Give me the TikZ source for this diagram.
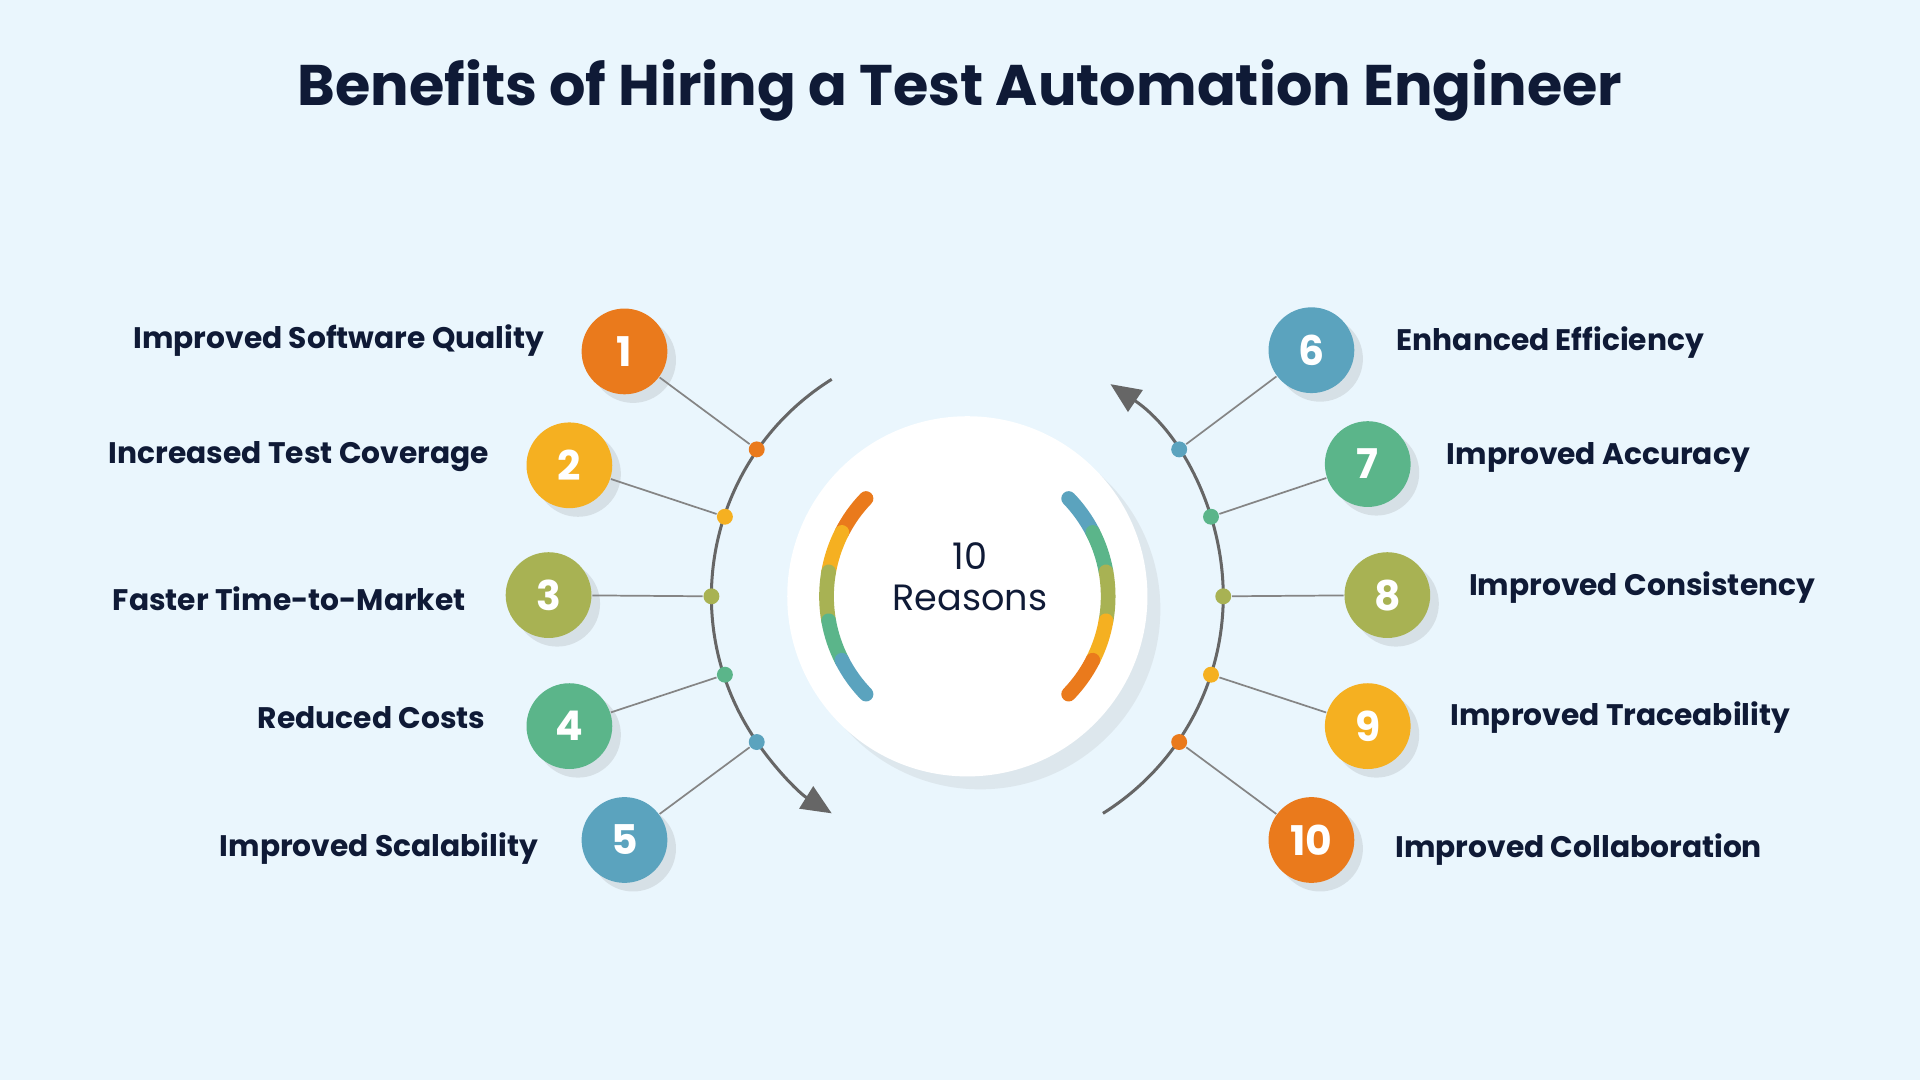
\documentclass[tikz,border=0pt]{standalone}
\usepackage{fontspec}
\setmainfont{Poppins}
\usetikzlibrary{arrows.meta,shadows}
\definecolor{bg}{HTML}{EAF6FD}
\definecolor{navy}{HTML}{0F1A36}
\definecolor{cor}{HTML}{EA7A1C}
\definecolor{cye}{HTML}{F5B021}
\definecolor{col}{HTML}{A8B253}
\definecolor{cgr}{HTML}{5BB58A}
\definecolor{cbl}{HTML}{5BA3BE}
\definecolor{arcg}{HTML}{666666}
\begin{document}
\begin{tikzpicture}[x=0.01cm,y=-0.01cm,
 num/.style={circle,minimum size=0.7cm,inner sep=0,fill=#1,text=white,font=\fontsize{9.5}{12}\selectfont\bfseries,drop shadow={opacity=0.18,shadow xshift=2pt,shadow yshift=-2pt}},
 dotn/.style={circle,minimum size=0.13cm,inner sep=0,fill=#1},
 lab/.style={font=\fontsize{6.9}{9}\selectfont\bfseries,text=navy,inner sep=0},
 conn/.style={draw=arcg!80,line width=0.4pt},
 bigarc/.style={draw=arcg,line width=0.7pt},
 seg/.style={line width=0.12cm,line cap=round}]
\fill[bg] (0,0) rectangle (1568,882);
\useasboundingbox (0,0) rectangle (1568,882);
\node[font=\fontsize{13.3}{16}\selectfont\bfseries,text=navy] (title) at (784,74) {Benefits of Hiring a Test Automation Engineer};
\coordinate (c) at (790,487);
\draw[bigarc,-{Triangle[length=7pt,width=6pt]}] ([shift={(-122:209)}]c) arc[start angle=-122,end angle=-238,radius=209];
\draw[bigarc,-{Triangle[length=7pt,width=6pt]}] ([shift={(58:209)}]c) arc[start angle=58,end angle=-56,radius=209];
\node[circle,fill=white,minimum size=2.94cm,inner sep=0,drop shadow={opacity=0.12,shadow xshift=3pt,shadow yshift=-3pt}] (mid) at (c) {};
\node[font=\fontsize{8.5}{9.5}\selectfont,text=navy,align=center] (rs) at (792,471) {10\\Reasons};
\foreach \a/\b/\col in {-136/-153/cor,-153/-170/cye,-170/-190/col,-190/-207/cgr,-207/-224/cbl}
  \draw[seg,\col] ([shift={(\a:115)}]c) arc[start angle=\a,end angle=\b,radius=115];
\foreach \a/\b/\col in {-44/-27/cbl,-27/-10/cgr,-10/10/col,10/27/cye,27/44/cor}
  \draw[seg,\col] ([shift={(\a:115)}]c) arc[start angle=\a,end angle=\b,radius=115];
\node[dotn=cor] (d1) at (618,367) {};
\node[dotn=cye] (d2) at (592,422) {};
\node[dotn=col] (d3) at (581,487) {};
\node[dotn=cgr] (d4) at (592,551) {};
\node[dotn=cbl] (d5) at (618,606) {};
\node[dotn=cbl] (d6) at (963,367) {};
\node[dotn=cgr] (d7) at (989,422) {};
\node[dotn=col] (d8) at (999,487) {};
\node[dotn=cye] (d9) at (989,551) {};
\node[dotn=cor] (d10) at (963,606) {};
\node[num=cor] (n1) at (510,287) {1};
\node[num=cye] (n2) at (465,380) {2};
\node[num=col] (n3) at (448,486) {3};
\node[num=cgr] (n4) at (465,593) {4};
\node[num=cbl] (n5) at (510,686) {5};
\node[num=cbl] (n6) at (1071,286) {6};
\node[num=cgr] (n7) at (1117,379) {7};
\node[num=col] (n8) at (1133,486) {8};
\node[num=cye] (n9) at (1117,593) {9};
\node[num=cor] (n10) at (1071,686) {10};
\foreach \i in {1,...,10} \draw[conn] (d\i) -- (n\i);
\node[lab,anchor=east] (l1) at (445,278) {Improved Software Quality};
\node[lab,anchor=east] (l2) at (400,373) {Increased Test Coverage};
\node[lab,anchor=east] (l3) at (381,489) {Faster Time-to-Market};
\node[lab,anchor=east] (l4) at (397,586) {Reduced Costs};
\node[lab,anchor=east] (l5) at (440,693) {Improved Scalability};
\node[lab,anchor=west] (l6) at (1140,280) {Enhanced Efficiency};
\node[lab,anchor=west] (l7) at (1181,374) {Improved Accuracy};
\node[lab,anchor=west] (l8) at (1199,480) {Improved Consistency};
\node[lab,anchor=west] (l9) at (1184,586) {Improved Traceability};
\node[lab,anchor=west] (l10) at (1139,694) {Improved Collaboration};
\end{tikzpicture}
\end{document}
